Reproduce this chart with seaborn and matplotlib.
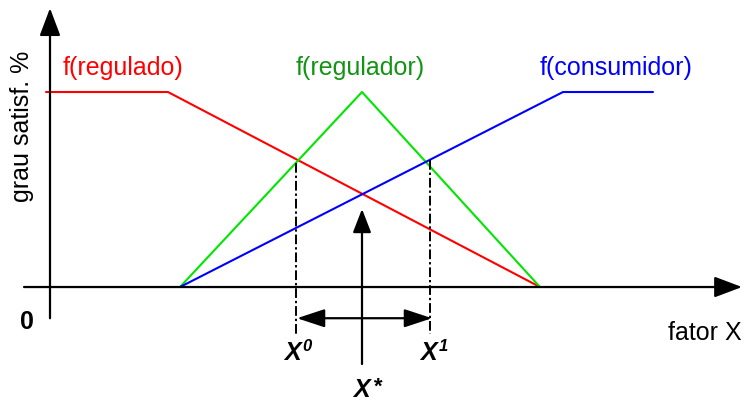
import numpy as np
import pandas as pd
import seaborn as sns
import matplotlib.pyplot as plt

# --- dados (x = fator X, y = grau de satisfação %) ---
reg_x = [-4, 118, 490]
reg_y = [100, 100, 0]
regr_x = [130, 312, 490]
regr_y = [0, 100, 0]
cons_x = [130, 513, 603]
cons_y = [0, 100, 100]

x0 = 246      # X0
x1 = 380      # X1
x_star = 312  # X*

sns.set_style("white")
plt.rcParams["font.family"] = ["Liberation Sans", "DejaVu Sans"]
plt.rcParams["text.color"] = "black"

df = pd.concat([
    pd.DataFrame({"x": reg_x, "y": reg_y, "f": "regulado"}),
    pd.DataFrame({"x": regr_x, "y": regr_y, "f": "regulador"}),
    pd.DataFrame({"x": cons_x, "y": cons_y, "f": "consumidor"}),
])
cores = {"regulado": "#ff0000", "regulador": "#00e600", "consumidor": "#0000ff"}

fig = plt.figure(figsize=(7.46, 4.06), dpi=100)
ax = fig.add_axes([0, 0, 1, 1])

sns.lineplot(data=df, x="x", y="y", hue="f", palette=cores, sort=False,
             estimator=None, units="f", lw=1.5, legend=False, ax=ax)

# eixos com setas
seta = dict(arrowstyle="-|>,head_length=0.85,head_width=0.32", lw=1.6,
            color="black", mutation_scale=20, shrinkA=0, shrinkB=0)
ax.annotate("", xy=(0, 143), xytext=(0, -16), arrowprops=seta)
ax.annotate("", xy=(692, 0), xytext=(-26, 0), arrowprops=seta)

# linhas tracejadas em X0 e X1
for xv, cx, cy in [(x0, regr_x, regr_y), (x1, cons_x, cons_y)]:
    ytop = np.interp(xv, cx, cy)
    ax.plot([xv, xv], [ytop, -24], color="black", lw=1.4,
            ls=(0, (5, 1.5, 1.2, 1.5)))

# seta dupla X0 <-> X1
seta2 = dict(arrowstyle="<|-|>,head_length=0.85,head_width=0.28", lw=1.6,
             color="black", mutation_scale=20, shrinkA=0, shrinkB=0)
ax.annotate("", xy=(x1 + 2, -16), xytext=(x0 + 1, -16), arrowprops=seta2)

# seta vertical em X*
seta3 = dict(arrowstyle="-|>,head_length=0.72,head_width=0.28", lw=1.6,
             color="black", mutation_scale=20, shrinkA=0, shrinkB=0)
ax.annotate("", xy=(x_star, 40), xytext=(x_star, -39.5), arrowprops=seta3)

# textos
fs = 18
ax.text(73, 113, "f(regulado)", color=cores["regulado"], fontsize=fs,
        ha="center", va="center")
ax.text(310, 113, "f(regulador)", color="#149414", fontsize=fs,
        ha="center", va="center")
ax.text(566, 113, "f(consumidor)", color=cores["consumidor"], fontsize=fs,
        ha="center", va="center")
ax.text(-28, 83, "grau satisf. %", fontsize=fs, rotation=90,
        ha="center", va="center")
ax.text(-23, -17.5, "0", fontsize=fs, fontweight="bold", ha="center", va="center")
ax.text(655, -23, "fator X", fontsize=fs, ha="center", va="center")

for xv, yv, sup, sfs, dy in [(x0 - 4, -33.3, "0", 12, 5), (x1 - 2, -33.3, "1", 12, 5),
                             (x_star - 1, -52.3, "*", 16, 2)]:
    ax.text(xv, yv, "X", fontsize=fs, fontweight="bold", style="italic",
            ha="center", va="center")
    ax.annotate(sup, xy=(xv, yv), xytext=(11, dy), textcoords="offset points",
                fontsize=sfs, fontweight="bold", style="italic",
                ha="center", va="center")

ax.set_xlim(-50, 696)
ax.set_ylim(-60.5, 147.7)
ax.axis("off")

fig.savefig("out.png", dpi=100)
